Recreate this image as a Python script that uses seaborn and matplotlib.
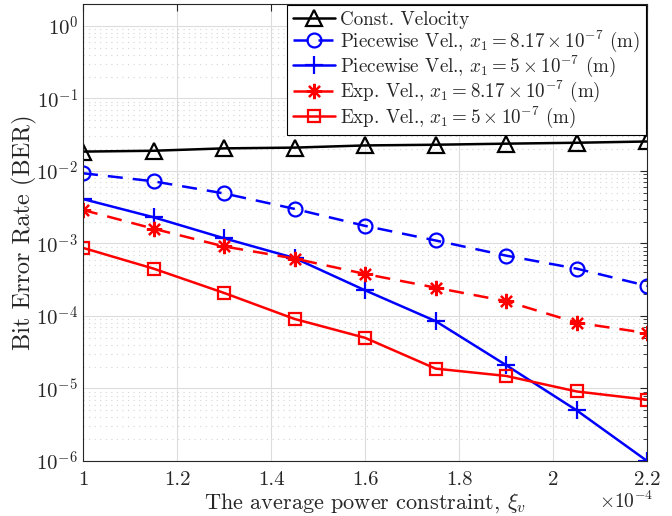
import numpy as np
import pandas as pd
import matplotlib
matplotlib.use('Agg')
import matplotlib.pyplot as plt
import seaborn as sns
from matplotlib.ticker import LogLocator, NullFormatter

# power constraint (x 1e-4)
xi_v = [1.0, 1.15, 1.3, 1.45, 1.6, 1.75, 1.9, 2.05, 2.2]

ber_const = [0.0185, 0.019, 0.0205, 0.021, 0.0225, 0.023, 0.0238, 0.0245, 0.0255]
ber_pw_817 = [9.3e-3, 7.2e-3, 4.9e-3, 3.0e-3, 1.75e-3, 1.1e-3, 6.8e-4, 4.5e-4, 2.6e-4]
ber_pw_5 = [4.1e-3, 2.3e-3, 1.18e-3, 6.3e-4, 2.26e-4, 8.5e-5, 2.1e-5, 5.0e-6, 1.0e-6]
ber_exp_817 = [2.9e-3, 1.6e-3, 9.1e-4, 6.2e-4, 3.8e-4, 2.46e-4, 1.6e-4, 8.1e-5, 5.8e-5]
ber_exp_5 = [8.7e-4, 4.5e-4, 2.08e-4, 9.1e-5, 5.0e-5, 1.88e-5, 1.49e-5, 9.1e-6, 7.0e-6]

labels = [
    'Const. Velocity',
    r'Piecewise Vel., $x_1 = 8.17\times10^{-7}$ (m)',
    r'Piecewise Vel., $x_1 = 5\times10^{-7}$ (m)',
    r'Exp. Vel., $x_1 = 8.17\times10^{-7}$ (m)',
    r'Exp. Vel., $x_1 = 5\times10^{-7}$ (m)',
]
x_ticks = [1, 1.2, 1.4, 1.6, 1.8, 2, 2.2]
x_ticklabels = ['1', '1.2', '1.4', '1.6', '1.8', '2', '2.2']
y_ticks = [1e-6, 1e-5, 1e-4, 1e-3, 1e-2, 1e-1, 1e0]

sns.set_style('white')
plt.rcParams['font.family'] = ['cmr10', 'DejaVu Serif']
plt.rcParams['mathtext.fontset'] = 'cm'
plt.rcParams['axes.unicode_minus'] = False
plt.rcParams['axes.formatter.use_mathtext'] = True

series = [
    (ber_const, 'black', '-', '^', 11, 'none'),
    (ber_pw_817, 'blue', '--', 'o', 10, 'none'),
    (ber_pw_5, 'blue', '-', '+', 13, 'blue'),
    (ber_exp_817, 'red', '--', (8, 2, 0), 11, 'red'),
    (ber_exp_5, 'red', '-', 's', 9, 'none'),
]

fig = plt.figure(figsize=(6.72, 5.16), dpi=100)
ax = fig.add_axes([0.1235, 0.1066, 0.8395, 0.8854])

for (vals, color, ls, mk, ms, fc), lab in zip(series, labels):
    df = pd.DataFrame({'x': xi_v, 'y': vals})
    sns.lineplot(data=df, x='x', y='y', ax=ax, color=color, linewidth=1.8,
                 marker=mk, markersize=ms, markerfacecolor=fc,
                 markeredgecolor=color, markeredgewidth=1.6, label=lab)
    line = ax.get_lines()[-1]
    if ls == '--':
        line.set_dashes([6, 4])

ax.set_yscale('log')
ax.set_ylim(1e-6, 2)
ax.set_xlim(1, 2.2)
ax.set_xticks(x_ticks)
ax.set_xticklabels(x_ticklabels)
ax.set_yticks(y_ticks)
ax.set_yticklabels([r'$10^{%d}$' % int(np.log10(t)) for t in y_ticks])
ax.yaxis.set_minor_locator(LogLocator(base=10, subs=np.arange(2, 10), numticks=20))
ax.yaxis.set_minor_formatter(NullFormatter())

ax.grid(True, which='major', color='#dcdcdc', linewidth=0.8, linestyle='-')
ax.grid(True, which='minor', axis='y', color='#d4d4d4', linewidth=0.8, linestyle=(0, (1, 4)))
ax.set_axisbelow(True)

ax.tick_params(which='both', direction='in', top=True, right=True, labelsize=15, colors='#262626')
ax.tick_params(which='major', length=5)
ax.tick_params(which='minor', length=3)
ax.tick_params(axis='x', which='major', pad=7)
for sp in ax.spines.values():
    sp.set_color('#262626')
    sp.set_linewidth(0.8)

ax.set_xlabel(r'The average power constraint, $\xi_v$', fontsize=16, color='#262626')
ax.set_ylabel('Bit Error Rate (BER)', fontsize=17.5, color='#262626')
ax.xaxis.set_label_coords(0.5, -0.066)
ax.yaxis.set_label_coords(-0.082, 0.5)
ax.text(1.012, -0.066, r'$\times10^{-4}$', transform=ax.transAxes, ha='right', va='top',
        fontsize=14, color='#262626')

leg = ax.legend(loc='upper right', fontsize=13.7, frameon=True, fancybox=False,
                edgecolor='black', framealpha=1, borderaxespad=0.05,
                handlelength=2.2, handletextpad=0.3, labelspacing=0.0, borderpad=0.3)
leg.get_frame().set_linewidth(0.8)

fig.savefig('out.png', dpi=100)
